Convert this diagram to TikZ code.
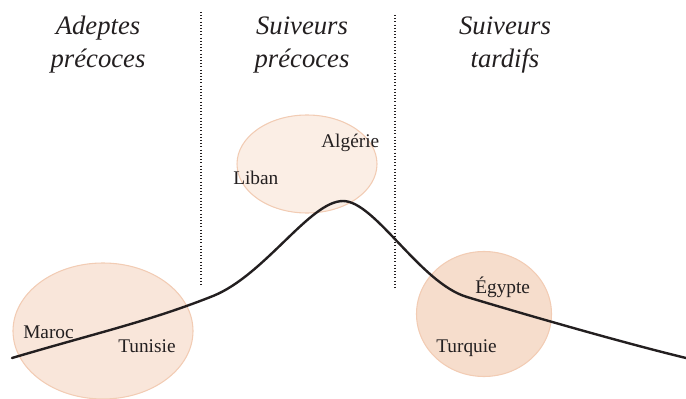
\documentclass[tikz,border=0pt]{standalone}
\usepackage{fontspec}
\setmainfont{Liberation Serif}
\usetikzlibrary{shapes.geometric, positioning}
\definecolor{inkdark}{RGB}{35, 31, 32}
\definecolor{peachedge}{RGB}{242, 204, 180}
\definecolor{peachmid}{RGB}{249, 230, 218}
\definecolor{peachlight}{RGB}{251, 238, 229}
\definecolor{peachdeep}{RGB}{246, 221, 204}

\begin{document}
\begin{tikzpicture}[
    x=0.75pt, y=-0.75pt,
    every node/.style={text=inkdark},
    heading/.style={font=\fontsize{20}{24.75}\selectfont\itshape, align=center, anchor=base, inner sep=0pt},
    country/.style={font=\fontsize{14.5}{17}\selectfont, anchor=base west, inner sep=0pt},
    zone/.style={ellipse, draw=peachedge, line width=0.8pt, inner sep=0pt},
    sep/.style={inkdark, line width=0.8pt, dash pattern=on 0.8pt off 1.6pt},
    curve/.style={inkdark, line width=1.8pt, line cap=round}
]
\useasboundingbox (0,0) rectangle (686,399);
% groups
\node[heading] (adeptes) at (98,68) {Adeptes\\précoces};
\node[heading] (suivpre) at (302,68) {Suiveurs\\précoces};
\node[heading] (suivtar) at (505,68) {Suiveurs\\tardifs};
% separators
\coordinate (sepAtop) at (201,12);
\coordinate (sepAbot) at (201,286);
\coordinate (sepBtop) at (395,15);
\coordinate (sepBbot) at (395,288);
\draw[sep] (sepAtop) -- (sepAbot);
\draw[sep] (sepBtop) -- (sepBbot);
% country groups
\node[zone, fill=peachmid, minimum width=135pt, minimum height=102pt] (early) at (103,331) {};
\node[zone, fill=peachlight, minimum width=105pt, minimum height=73.5pt] (peak) at (307,164) {};
\node[zone, fill=peachdeep, minimum width=101.25pt, minimum height=93.75pt] (late) at (484,314) {};
% diffusion curve
\coordinate (start) at (12,358);
\coordinate (knee) at (213,296);
\coordinate (top) at (343,201);
\coordinate (fall) at (467,297);
\coordinate (tail) at (686,358);
\draw[curve] (start) .. controls (100,332) and (150,321) .. (knee)
  .. controls (265,275) and (310,201) .. (top)
  .. controls (375,201) and (420,283) .. (fall)
  .. controls (520,313) and (620,342) .. (tail);
% countries
\node[country] (maroc) at (23,339) {Maroc};
\node[country] (tunisie) at (118,352) {Tunisie};
\node[country] (liban) at (233,185) {Liban};
\node[country] (algerie) at (321,148) {Algérie};
\node[country] (egypte) at (475,293) {Égypte};
\node[country] (turquie) at (436,353) {Turquie};
\end{tikzpicture}
\end{document}
